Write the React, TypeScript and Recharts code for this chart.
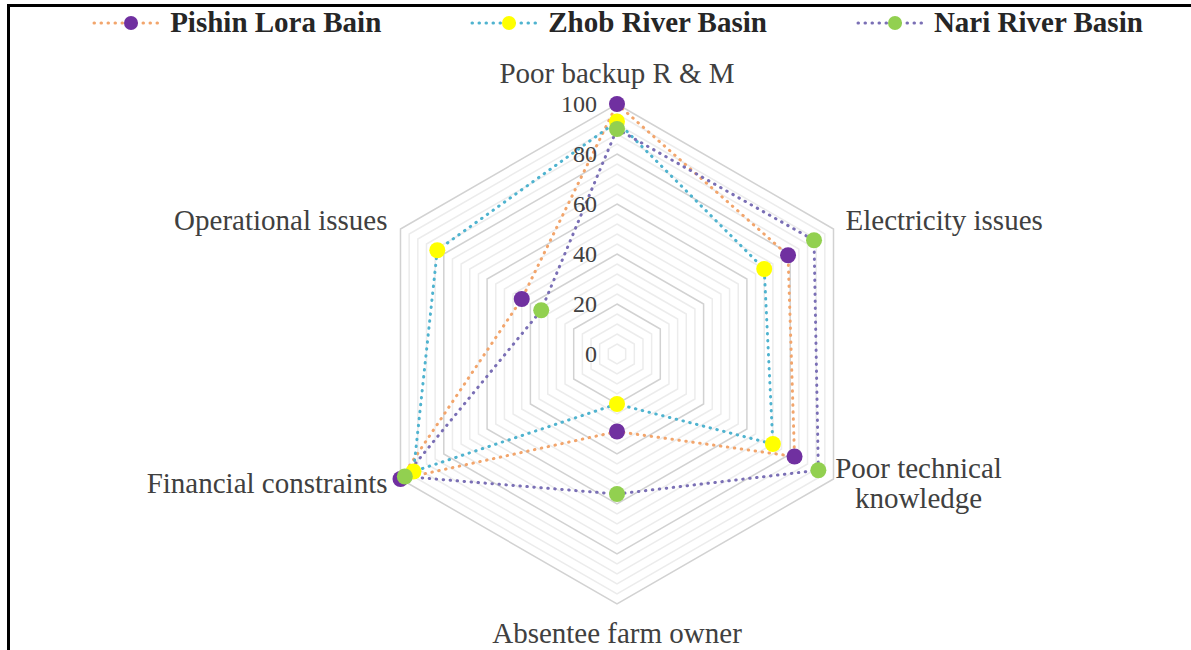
import React from "react";
import { RadarChart, Radar, PolarGrid, PolarAngleAxis, PolarRadiusAxis, Legend } from "recharts";

// categories run clockwise from the top
const categories = [
    "Poor backup R & M",
    "Electricity issues",
    "Poor technical knowledge",
    "Absentee farm owner",
    "Financial constraints",
    "Operational issues"
];
const pishinLora = [100, 79, 82, 31, 100, 44];
const zhobRiver = [93, 68, 72, 20, 94, 83];
const nariRiver = [90, 91, 93, 56, 98, 35];
const radiusTicks = [0, 20, 40, 60, 80, 100];
const minorStep = 4;

const WIDTH = 1191;
const HEIGHT = 650;
const CX = 617;
const CY = 354;
const OUTER = 250;
const SERIF = "Liberation Serif";

const SERIES = [
    { key: "pishin", name: "Pishin Lora Bain", line: "#f2a56c", dot: "#7030a0" },
    { key: "zhob", name: "Zhob River Basin", line: "#4fb3cf", dot: "#ffff00" },
    { key: "nari", name: "Nari River Basin", line: "#7a6fb5", dot: "#92d050" }
];

const data = categories.map((name, i) => ({
    name,
    pishin: pishinLora[i],
    zhob: zhobRiver[i],
    nari: nariRiver[i]
}));

const maxValue = radiusTicks[radiusTicks.length - 1];
const toRadius = (v: number) => (v / maxValue) * OUTER;
const minorRadii: number[] = [];
for (let v = minorStep; v < maxValue; v += minorStep) {
    if (v % radiusTicks[1] !== 0) minorRadii.push(toRadius(v));
}
const majorRadii = radiusTicks.map(toRadius);

const renderRadiusTick = (props: any) => {
    const { x, y, payload } = props;
    return (
        <text x={x - 20} y={y} textAnchor="end" dominantBaseline="central"
            style={{ fontFamily: SERIF, fontSize: 24 }} fill="#404040">
            {payload.value}
        </text>
    );
};

const renderAngleTick = (props: any) => {
    const { payload } = props;
    const rad = (payload.coordinate * Math.PI) / 180;
    const c = Math.cos(rad);
    const s = Math.sin(rad);
    const vx = CX + OUTER * c;
    const vy = CY - OUTER * s;
    const label: string = payload.value;
    let anchor: "start" | "middle" | "end" = "middle";
    let x = vx;
    let y = vy;
    let lines = [label];
    if (Math.abs(c) < 0.01) {
        y = s > 0 ? vy - 21 : vy + 39;
    } else if (c > 0) {
        anchor = "start";
        x = vx + 12;
        y = s > 0 ? vy + 1 : vy - 1;
        if (label.length > 22) {
            const words = label.split(" ");
            lines = [words.slice(0, 2).join(" "), words.slice(2).join(" ")];
            anchor = "middle";
            x = vx + 85;
        }
    } else {
        anchor = "end";
        x = vx - 13;
        y = s > 0 ? vy + 1 : vy + 14;
    }
    return (
        <text x={x} y={y} textAnchor={anchor} style={{ fontFamily: SERIF, fontSize: 29 }} fill="#404040">
            {lines.map((t, i) => (
                <tspan key={i} x={x} dy={i === 0 ? 0 : 30}>{t}</tspan>
            ))}
        </text>
    );
};

const renderLegend = () => (
    <div style={{ display: "flex", justifyContent: "center", gap: 88 }}>
        {SERIES.map(s => (
            <div key={s.key} style={{ display: "flex", alignItems: "center" }}>
                <svg width={74} height={20}>
                    <line x1={3} x2={71} y1={10} y2={10} stroke={s.line} strokeWidth={3}
                        strokeDasharray="0.5 6.5" strokeLinecap="round" />
                    <circle cx={40} cy={10} r={7} fill={s.dot} />
                </svg>
                <span style={{ marginLeft: 5, fontFamily: SERIF, fontWeight: "bold", fontSize: 29, color: "#262626" }}>
                    {s.name}
                </span>
            </div>
        ))}
    </div>
);

const makeDot = (color: string) => (p: any) => (
    <circle key={`${p.index}-${color}`} cx={p.cx} cy={p.cy} r={8} fill={color} stroke="none" />
);

const App: React.FC = () => {
    return (
        <div style={{ position: "relative", width: WIDTH, height: HEIGHT, background: "#fff", overflow: "hidden" }}>
            <style>{"body{margin:0}"}</style>
            <div style={{
                position: "absolute", left: 7, top: 4, width: WIDTH, height: HEIGHT,
                borderTop: "3px solid #000", borderLeft: "3px solid #000"
            }} />
            <div style={{ position: "absolute", left: 0, top: 0 }}>
                <RadarChart width={WIDTH} height={HEIGHT} data={data} cx={CX} cy={CY} outerRadius={OUTER}>
                    <PolarGrid gridType="polygon" radialLines={false} polarRadius={minorRadii} stroke="#ececec" strokeWidth={1.5} />
                    <PolarGrid gridType="polygon" radialLines={false} polarRadius={majorRadii} stroke="#d2d2d2" strokeWidth={1.5} />
                    <PolarAngleAxis dataKey="name" tick={renderAngleTick} tickLine={false} axisLine={false} />
                    <PolarRadiusAxis angle={90} domain={[0, maxValue]} ticks={radiusTicks} tickCount={radiusTicks.length}
                        axisLine={false} tickLine={false} tick={renderRadiusTick} />
                    {SERIES.map(s => (
                        <Radar key={s.key} name={s.name} dataKey={s.key} stroke={s.line} strokeWidth={3}
                            strokeDasharray="0.5 6.5" strokeLinecap="round" fill="none" fillOpacity={0}
                            dot={makeDot(s.dot)} isAnimationActive={false} />
                    ))}
                    <Legend verticalAlign="top" content={renderLegend}
                        wrapperStyle={{ top: 6, left: CX - WIDTH / 2, width: WIDTH }} />
                </RadarChart>
            </div>
        </div>
    );
};

export default App;
